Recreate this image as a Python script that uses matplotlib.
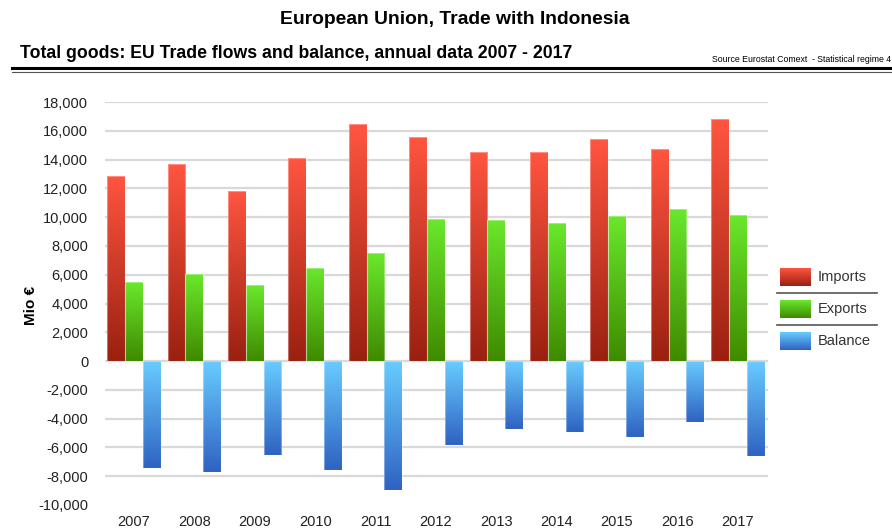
import matplotlib.pyplot as plt
import numpy as np
from matplotlib.colors import LinearSegmentedColormap
from matplotlib.patches import Rectangle
from matplotlib.lines import Line2D

# ─────────────────────────────────────────────
# Data (Mio €)
# ─────────────────────────────────────────────

years   = ["2007", "2008", "2009", "2010", "2011", "2012",
           "2013", "2014", "2015", "2016", "2017"]
imports = [12870, 13660, 11800, 14100, 16460, 15600,
           14550, 14500, 15400, 14700, 16800]
exports = [5480, 6040, 5280, 6500, 7500, 9860,
           9800, 9580, 10070, 10600, 10140]
balance = [-7430, -7700, -6530, -7570, -8960, -5830,
           -4720, -4930, -5280, -4240, -6600]

series = [
    ("Imports", imports, "#ff5540", "#9a2010"),
    ("Exports", exports, "#6ae82c", "#3f8a00"),
    ("Balance", balance, "#68ccff", "#2f62c2"),
]

plt.rcParams["font.family"] = ["Liberation Sans", "DejaVu Sans"]

fig = plt.figure(figsize=(8.92, 5.29), dpi=100)
ax = fig.add_axes([105 / 892, 1 - 505 / 529, (768 - 105) / 892, (505 - 102) / 529])

x = np.arange(len(years))
w = 0.295
grad = np.linspace(0, 1, 256).reshape(-1, 1)


def gradient_bars(xs, vals, top_c, bot_c, offset):
    cmap = LinearSegmentedColormap.from_list("g", [bot_c, top_c])
    for xi, v in zip(xs, vals):
        left = xi + offset - w / 2
        lo, hi = min(0, v), max(0, v)
        rect = Rectangle((left, lo), w, hi - lo, facecolor="none",
                         edgecolor="none")
        ax.add_patch(rect)
        # lighter at the top, darker at the bottom
        im = ax.imshow(grad, cmap=cmap, aspect="auto", origin="lower",
                       extent=(left, left + w, lo, hi), zorder=3,
                       interpolation="bilinear")
        im.set_clip_path(rect)
        ax.add_patch(Rectangle((left, lo), w, hi - lo, facecolor="none",
                               edgecolor=(1, 1, 1, 0.35), lw=0.8, zorder=4))


for i, (name, vals, top_c, bot_c) in enumerate(series):
    gradient_bars(x, vals, top_c, bot_c, (i - 1) * w)

ax.set_xlim(-0.48, 10.5)
ax.set_ylim(-10000, 18000)
ax.set_yticks(np.arange(-10000, 18001, 2000))
ax.yaxis.set_major_formatter(plt.FuncFormatter(lambda v, p: f"{int(v):,}"))
ax.set_xticks(x)
ax.set_xticklabels(years)
ax.tick_params(axis="both", length=0, labelsize=10.5, colors="#222222")
ax.tick_params(axis="y", pad=12)
ax.tick_params(axis="x", pad=7)
for t in np.arange(-8000, 18001, 2000):
    ax.axhline(t, color="#d9d9d9", lw=1.6, zorder=1)
for s in ax.spines.values():
    s.set_visible(False)
ax.set_ylabel("Mio €", fontsize=11, fontweight="bold")
ax.yaxis.set_label_coords(-(105 - 38) / 663, (505 - 305) / 403)

# ── Titles ───────────────────────────────────
fig.text(0.51, 1 - 20 / 529, "European Union, Trade with Indonesia",
         ha="center", va="center", fontsize=13.9, fontweight="bold")
fig.text(20 / 892, 1 - 54 / 529,
         "Total goods: EU Trade flows and balance, annual data 2007 - 2017",
         ha="left", va="center", fontsize=12.7, fontweight="bold")
fig.text(891 / 892, 1 - 59 / 529,
         "Source Eurostat Comext  - Statistical regime 4",
         ha="right", va="center", fontsize=6.3)
fig.add_artist(Line2D([12 / 892, 1], [1 - 68 / 529] * 2, color="black", lw=2.2))
fig.add_artist(Line2D([12 / 892, 1], [1 - 71.5 / 529] * 2, color="#555555", lw=0.8))

# ── Legend ───────────────────────────────────
for i, (name, vals, top_c, bot_c) in enumerate(series):
    yc = 277 + i * 32
    cmap = LinearSegmentedColormap.from_list("g", [bot_c, top_c])
    lax = fig.add_axes([780 / 892, 1 - (yc + 9) / 529, 31 / 892, 18 / 529])
    lax.imshow(grad, cmap=cmap, aspect="auto", origin="lower")
    lax.axis("off")
    fig.text(818 / 892, 1 - yc / 529, name, ha="left", va="center",
             fontsize=10.5, color="#333333")
    if i < 2:
        fig.add_artist(Line2D([777 / 892, 877 / 892], [1 - (yc + 16) / 529] * 2,
                              color="#555555", lw=1.2))

fig.savefig("out.png", dpi=100)
